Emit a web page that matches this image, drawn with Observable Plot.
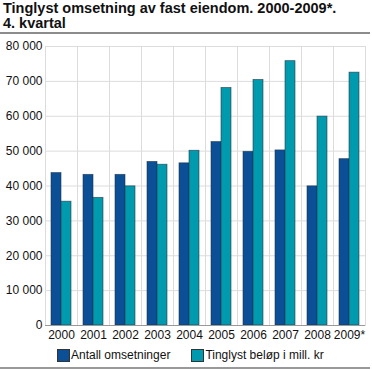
<!DOCTYPE html>
<html>
<head>
<meta charset="utf-8">
<script src="https://cdn.jsdelivr.net/npm/d3@7"></script>
<script src="https://cdn.jsdelivr.net/npm/@observablehq/plot@0.6"></script>
<style>
  body { margin: 0; background: #fff; font-family: "Liberation Sans", Arial, sans-serif; }
  #wrap { position: relative; width: 372px; height: 370px; }
  #title { position: absolute; left: 3px; top: 1px; font-weight: bold; font-size: 14.5px; line-height: 15px; color: #111; }
  #rule1 { position: absolute; left: 0; top: 32px; width: 370px; height: 2px; background: #8c8c8c; z-index: 5; }
  #rule2 { position: absolute; left: 0; top: 367px; width: 370px; height: 2px; background: #999999; z-index: 5; }
  #chart { position: absolute; left: 0; top: 34px; }
  #legend { position: absolute; left: 57px; top: 346px; height: 18px; display: flex; align-items: center; font-size: 12px; color: #111; }
  .sw { display: inline-block; width: 13px; height: 13px; border: 1px solid #333; margin-right: 1px; box-sizing: border-box; }
  .item { display: flex; align-items: center; margin-right: 21px; }
</style>
</head>
<body>
<div id="wrap">
  <div id="title">Tinglyst omsetning av fast eiendom. 2000-2009*.<br>4. kvartal</div>
  <div id="chart"></div>
  <div id="legend"></div>
  <div id="rule1">&nbsp;</div>
  <div id="rule2">&nbsp;</div>
</div>
<script>
const years = ["2000","2001","2002","2003","2004","2005","2006","2007","2008","2009*"];
const antall = [43700, 43200, 43200, 46900, 46500, 52600, 49800, 50200, 39900, 47700];
const belop = [35500, 36600, 39900, 46100, 50100, 68100, 70400, 75800, 59900, 72500];
const seriesNames = ["Antall omsetninger", "Tinglyst beløp i mill. kr"];
const colors = ["#0b4f96", "#009aae"];
const yTicks = [0, 10000, 20000, 30000, 40000, 50000, 60000, 70000, 80000];

const data = [];
years.forEach((y, i) => {
  data.push({year: y, series: seriesNames[0], value: antall[i]});
  data.push({year: y, series: seriesNames[1], value: belop[i]});
});

const fmt = d => d3.format(",")(d).replace(/,/g, " ");

const chart = Plot.plot({
  width: 372,
  height: 311,
  marginTop: 12,
  marginBottom: 20,
  marginLeft: 41,
  marginRight: 4,
  style: {fontFamily: "Liberation Sans, Arial, sans-serif", fontSize: "12px", color: "#111", background: "transparent"},
  fx: {domain: years, padding: 0, label: null, axis: "bottom", tickSize: 0, tickPadding: 5},
  x: {domain: seriesNames, paddingInner: 0, paddingOuter: 0.48, axis: null},
  y: {domain: [0, 80000], ticks: yTicks, tickFormat: fmt, label: null, tickSize: 0, tickPadding: 3},
  color: {domain: seriesNames, range: colors},
  marks: [
    Plot.gridY(yTicks, {stroke: "#dcdcdc", strokeOpacity: 1}),
    Plot.frame({stroke: "#dcdcdc"}),
    Plot.barY(data, {fx: "year", x: "series", y: "value", fill: "series", stroke: "#223344", strokeWidth: 0.8, strokeOpacity: 0.7, inset: 0}),
    Plot.ruleY([0], {stroke: "#999"})
  ]
});
document.getElementById("chart").appendChild(chart);

const legend = document.getElementById("legend");
seriesNames.forEach((s, i) => {
  const item = document.createElement("span");
  item.className = "item";
  const sw = document.createElement("span");
  sw.className = "sw";
  sw.style.background = colors[i];
  item.appendChild(sw);
  item.appendChild(document.createTextNode(s));
  legend.appendChild(item);
});
</script>
</body>
</html>
